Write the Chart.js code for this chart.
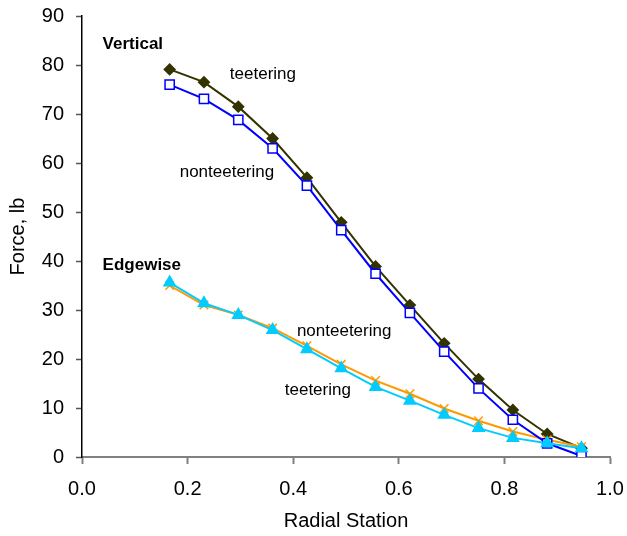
<!DOCTYPE html>
<html>
<head>
<meta charset="utf-8">
<script src="https://cdn.jsdelivr.net/npm/chart.js@4/dist/chart.umd.min.js"></script>
<style>
  body { margin: 0; background: #fff; }
</style>
</head>
<body>
<canvas id="forceChart" width="627" height="536"></canvas>
<script>
// radial stations (r/R)
const stations = [0.166, 0.231, 0.296, 0.361, 0.426, 0.491, 0.556, 0.621, 0.686, 0.751, 0.816, 0.881, 0.946];

// vertical force, lb
const vertTeeter    = [79.1, 76.5, 71.5, 65.0, 57.0, 47.9, 38.9, 31.0, 23.2, 15.9, 9.6, 4.7, 1.8];
const vertNonTeeter = [76.0, 73.1, 68.8, 63.0, 55.4, 46.3, 37.4, 29.4, 21.5, 14.0, 7.6, 2.8, 0.2];

// edgewise force, lb
const edgeTeeter    = [35.6, 31.4, 29.0, 25.9, 22.0, 18.1, 14.3, 11.5, 8.6, 5.9, 3.9, 2.8, 1.8];
const edgeNonTeeter = [35.0, 31.0, 29.0, 26.3, 22.7, 18.9, 15.6, 12.9, 9.9, 7.4, 5.2, 3.5, 2.1];

const xTicks = [0.0, 0.2, 0.4, 0.6, 0.8, 1.0];
const yTicks = [0, 10, 20, 30, 40, 50, 60, 70, 80, 90];

// text labels inside the plot, in data units
const notes = [
    {text: 'Vertical',     x: 0.039, y: 84.3, bold: true},
    {text: 'teetering',    x: 0.280, y: 78.0},
    {text: 'nonteetering', x: 0.185, y: 58.2},
    {text: 'Edgewise',     x: 0.039, y: 39.2, bold: true},
    {text: 'nonteetering', x: 0.407, y: 25.7},
    {text: 'teetering',    x: 0.384, y: 13.7}
];

const FONT = '"Liberation Sans", Arial, sans-serif';

function pts(vals){
    return stations.map((s, i) => ({x: s, y: vals[i]}));
}

const notesPlugin = {
    id: 'notes',
    afterDatasetsDraw(chart){
        const ctx = chart.ctx;
        const xs = chart.scales.x, ys = chart.scales.y;
        ctx.save();
        ctx.fillStyle = '#000';
        ctx.textAlign = 'left';
        ctx.textBaseline = 'middle';
        notes.forEach(n => {
            ctx.font = (n.bold ? 'bold ' : '') + '17px ' + FONT;
            ctx.fillText(n.text, xs.getPixelForValue(n.x), ys.getPixelForValue(n.y));
        });
        ctx.restore();
    }
};

const data = {
    datasets: [
        {
            label: 'Edgewise teetering',
            data: pts(edgeTeeter),
            borderColor: '#00CCFF',
            backgroundColor: '#00CCFF',
            pointStyle: 'triangle',
            pointRadius: 6,
            borderWidth: 2
        },
        {
            label: 'Vertical nonteetering',
            data: pts(vertNonTeeter),
            borderColor: '#0000FF',
            backgroundColor: '#FFFFFF',
            pointBorderColor: '#0000FF',
            pointStyle: 'rect',
            pointRadius: 6.5,
            pointBorderWidth: 1.5,
            borderWidth: 2
        },
        {
            label: 'Edgewise nonteetering',
            data: pts(edgeNonTeeter),
            borderColor: '#FF9900',
            backgroundColor: '#FF9900',
            pointStyle: 'crossRot',
            pointRadius: 6,
            pointBorderWidth: 1.5,
            borderWidth: 2
        },
        {
            label: 'Vertical teetering',
            data: pts(vertTeeter),
            borderColor: '#333300',
            backgroundColor: '#333300',
            pointStyle: 'rectRot',
            pointRadius: 5,
            borderWidth: 2
        }
    ]
};

const config = {
    type: 'line',
    data: data,
    options: {
        responsive: false,
        animation: false,
        layout: {padding: {left: 0, right: 17, top: 16, bottom: 0}},
        plugins: {
            legend: {display: false},
            tooltip: {enabled: false}
        },
        elements: {line: {tension: 0}},
        scales: {
            x: {
                type: 'linear',
                min: 0, max: 1,
                afterBuildTicks: s => { s.ticks = xTicks.map(v => ({value: v})); },
                afterFit: s => { s.height = 79; s.paddingLeft = 0; s.paddingRight = 0; },
                ticks: {
                    color: '#000',
                    padding: 13,
                    font: {family: FONT, size: 20},
                    callback: v => Number(v).toFixed(1)
                },
                grid: {drawOnChartArea: false, tickLength: 7, tickColor: '#808080', tickWidth: 2},
                border: {color: '#808080', width: 2},
                title: {
                    display: true, text: 'Radial Station', color: '#000',
                    font: {family: FONT, size: 20}, padding: 3
                }
            },
            y: {
                min: 0, max: 90,
                afterBuildTicks: s => { s.ticks = yTicks.map(v => ({value: v})); },
                afterFit: s => { s.width = 82; s.paddingTop = 0; s.paddingBottom = 0; },
                ticks: {
                    color: '#000',
                    padding: 12,
                    font: {family: FONT, size: 20}
                },
                grid: {drawOnChartArea: false, tickLength: 6, tickColor: '#555', tickWidth: 1.5},
                border: {color: '#000', width: 1.5},
                title: {
                    display: true, text: 'Force, lb', color: '#000',
                    font: {family: FONT, size: 20}, padding: 6
                }
            }
        }
    },
    plugins: [notesPlugin]
};

new Chart(document.getElementById('forceChart').getContext('2d'), config);
</script>
</body>
</html>
